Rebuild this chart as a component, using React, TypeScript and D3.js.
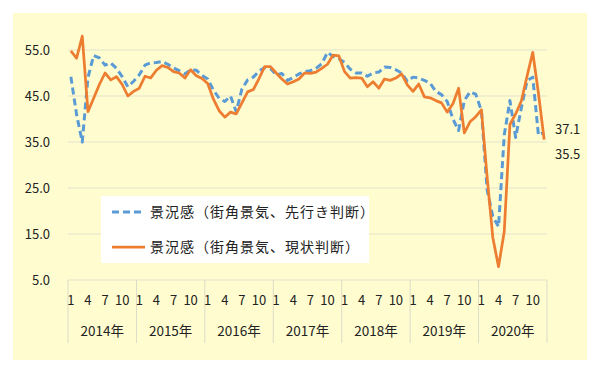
import React from "react";
import * as d3 from "d3";

const years = ["2014年", "2015年", "2016年", "2017年", "2018年", "2019年", "2020年"];
const monthTicks = ["1", "4", "7", "10"];
const yTicks = [5, 15, 25, 35, 45, 55];

// 景況感（街角景気、先行き判断） — monthly, Jan 2014 .. Dec 2020
const outlook = [
  49.2, 41.0, 35.0, 49.0, 53.8, 53.3, 51.7, 52.2, 51.0, 49.2, 47.0, 48.2,
  49.6, 51.7, 52.2, 52.3, 52.5, 51.9, 51.1, 50.5, 49.8, 50.7, 50.6, 49.5,
  48.7, 46.3, 44.5, 43.8, 45.0, 41.6, 46.5, 48.5, 49.1, 50.4, 51.2, 51.0,
  49.6, 49.9, 48.4, 49.0, 49.8, 50.3, 50.5, 51.0, 52.0, 54.5, 53.6, 53.1,
  52.3, 50.8, 50.0, 50.0, 49.3, 50.0, 50.2, 51.3, 51.2, 50.7, 50.0, 48.2,
  49.1, 48.9, 48.4, 47.8, 46.0, 45.3, 43.8, 40.0, 37.5, 44.0, 45.9, 45.4,
  41.8, 24.6, 18.8, 16.6, 36.5, 44.0, 36.0, 42.4, 48.3, 49.1, 36.5, 37.1,
];

// 景況感（街角景気、現状判断）
const current = [
  54.8, 53.2, 58.0, 41.6, 44.5, 47.5, 50.0, 48.5, 49.2, 47.5, 45.0, 46.0,
  46.7, 49.3, 48.9, 50.6, 51.6, 51.2, 50.3, 50.0, 48.9, 50.7, 49.4, 48.8,
  47.7, 44.3, 41.8, 40.4, 41.5, 41.1, 43.5, 45.9, 46.4, 48.8, 51.4, 51.4,
  50.0, 48.7, 47.6, 48.1, 48.7, 50.0, 49.9, 50.2, 51.0, 51.9, 53.9, 53.7,
  50.3, 48.9, 49.0, 48.9, 47.0, 48.1, 46.7, 48.7, 48.4, 48.9, 49.8, 47.4,
  46.0, 47.6, 44.8, 44.6, 44.0, 43.5, 41.5, 43.3, 46.7, 37.0, 39.4, 40.5,
  42.0, 27.4, 14.2, 7.9, 15.5, 38.8, 41.1, 43.9, 49.3, 54.5, 45.6, 35.5,
];

const seriesNames = ["景況感（街角景気、先行き判断）", "景況感（街角景気、現状判断）"];
const endLabels = ["37.1", "35.5"];

const FONT = "'Noto Sans CJK JP', 'Noto Sans', sans-serif";

export default function App() {
  const months = d3.range(years.length * 12);
  const x = d3.scaleBand<number>().domain(months).range([68, 547]).padding(0);
  const y = d3.scaleLinear().domain([5, 55]).range([280, 50]);
  const cx = (i: number) => (x(i) as number) + x.bandwidth() / 2;

  const line = d3
    .line<number>()
    .x((_, i) => cx(i))
    .y((v) => y(v));

  const yearW = x.bandwidth() * 12;

  return (
    <svg
      width={600}
      height={377}
      style={{ position: "absolute", left: 0, top: 0, background: "#fff" }}
      fontFamily={FONT}
    >
      <rect x={13} y={13} width={574} height={347} fill="#FFFDD0" />
      {yTicks.map((t) => (
        <g key={t}>
          <line x1={68} x2={547} y1={y(t)} y2={y(t)} stroke="#E3E2CC" strokeWidth={1.2} />
          <text x={50} y={y(t)} dy="0.35em" textAnchor="end" fontSize={13} fill="#222">
            {t.toFixed(1)}
          </text>
        </g>
      ))}
      {d3.range(years.length + 1).map((k) => (
        <line
          key={k}
          x1={68 + k * yearW}
          x2={68 + k * yearW}
          y1={280}
          y2={343}
          stroke="#DCDBC8"
          strokeWidth={1}
        />
      ))}
      {years.map((yr, k) => (
        <g key={yr}>
          {monthTicks.map((m) => {
            const idx = k * 12 + (+m - 1);
            return (
              <text key={m} x={cx(idx)} y={300} dy="0.35em" textAnchor="middle" fontSize={13} fill="#222">
                {m}
              </text>
            );
          })}
          <text x={68 + (k + 0.5) * yearW} y={331} dy="0.35em" textAnchor="middle" fontSize={13.5} fill="#222">
            {yr}
          </text>
        </g>
      ))}
      <path
        d={line(outlook) || ""}
        fill="none"
        stroke="#5B9BD5"
        strokeWidth={3}
        strokeDasharray="7,4"
        strokeLinejoin="round"
      />
      <path
        d={line(current) || ""}
        fill="none"
        stroke="#ED7D31"
        strokeWidth={2.75}
        strokeLinejoin="round"
      />
      <text x={555} y={129} dy="0.35em" fontSize={13} fill="#222">{endLabels[0]}</text>
      <text x={555} y={154} dy="0.35em" fontSize={13} fill="#222">{endLabels[1]}</text>

      <rect x={101} y={196} width={268} height={67} fill="#FFFFFF" />
      <line x1={112} x2={144} y1={212} y2={212} stroke="#5B9BD5" strokeWidth={3} strokeDasharray="7,4" />
      <line x1={112} x2={145} y1={247} y2={247} stroke="#ED7D31" strokeWidth={2.75} />
      <text x={150} y={212} dy="0.35em" fontSize={14} letterSpacing={1} fill="#222">{seriesNames[0]}</text>
      <text x={150} y={247} dy="0.35em" fontSize={14} letterSpacing={1} fill="#222">{seriesNames[1]}</text>
    </svg>
  );
}
